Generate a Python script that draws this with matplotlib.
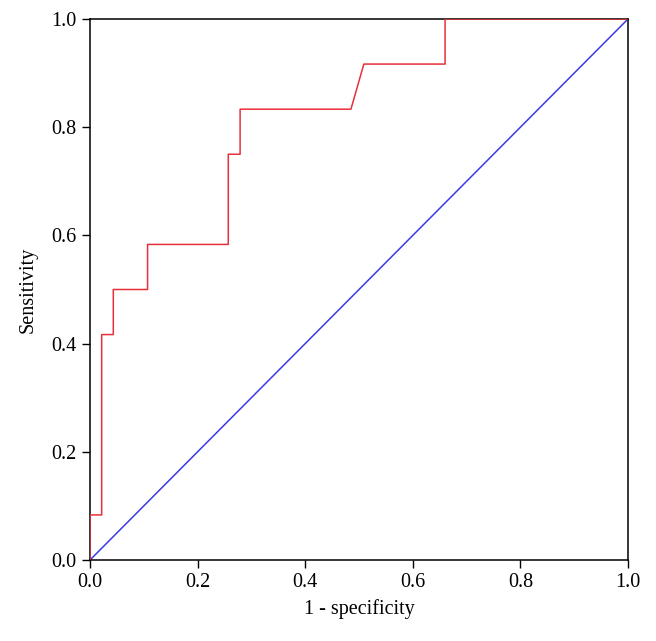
import matplotlib
matplotlib.use("Agg")
import matplotlib.pyplot as plt

fpr = [0.0, 0.0, 0.0217, 0.0217, 0.0433, 0.0433, 0.107, 0.107, 0.257, 0.257, 0.279, 0.279, 0.485, 0.509, 0.660, 0.660, 1.0]
tpr = [0.0, 0.0833, 0.0833, 0.4167, 0.4167, 0.5, 0.5, 0.5833, 0.5833, 0.75, 0.75, 0.8333, 0.8333, 0.9167, 0.9167, 1.0, 1.0]
ref_x = [0.0, 1.0]
ref_y = [0.0, 1.0]
ticks = [0.0, 0.2, 0.4, 0.6, 0.8, 1.0]
tick_labels = ["0.0", "0.2", "0.4", "0.6", "0.8", "1.0"]

plt.rcParams['font.family'] = ['Liberation Serif', 'DejaVu Serif']
fig = plt.figure(figsize=(6.56, 6.41), dpi=100)
ax = fig.add_axes([90/656, 1-560/641, 538/656, 541/641])
ax.plot(ref_x, ref_y, color='#3a3ae6', lw=1.1, zorder=2)
ax.plot(fpr, tpr, color='#e8303a', lw=1.1, zorder=3)
ax.set_xlim(0, 1)
ax.set_ylim(0, 1)
ax.set_xticks(ticks)
ax.set_xticklabels(tick_labels)
ax.set_yticks(ticks)
ax.set_yticklabels(tick_labels)
ax.tick_params(direction='out', length=6, width=1, labelsize=14.5, colors='black')
for s in ax.spines.values():
    s.set_linewidth(1.1)
ax.set_xlabel("1 - specificity", fontsize=14.5, labelpad=5)
ax.set_ylabel("Sensitivity", fontsize=14.5, labelpad=10)
fig.savefig("out.png", dpi=100)
